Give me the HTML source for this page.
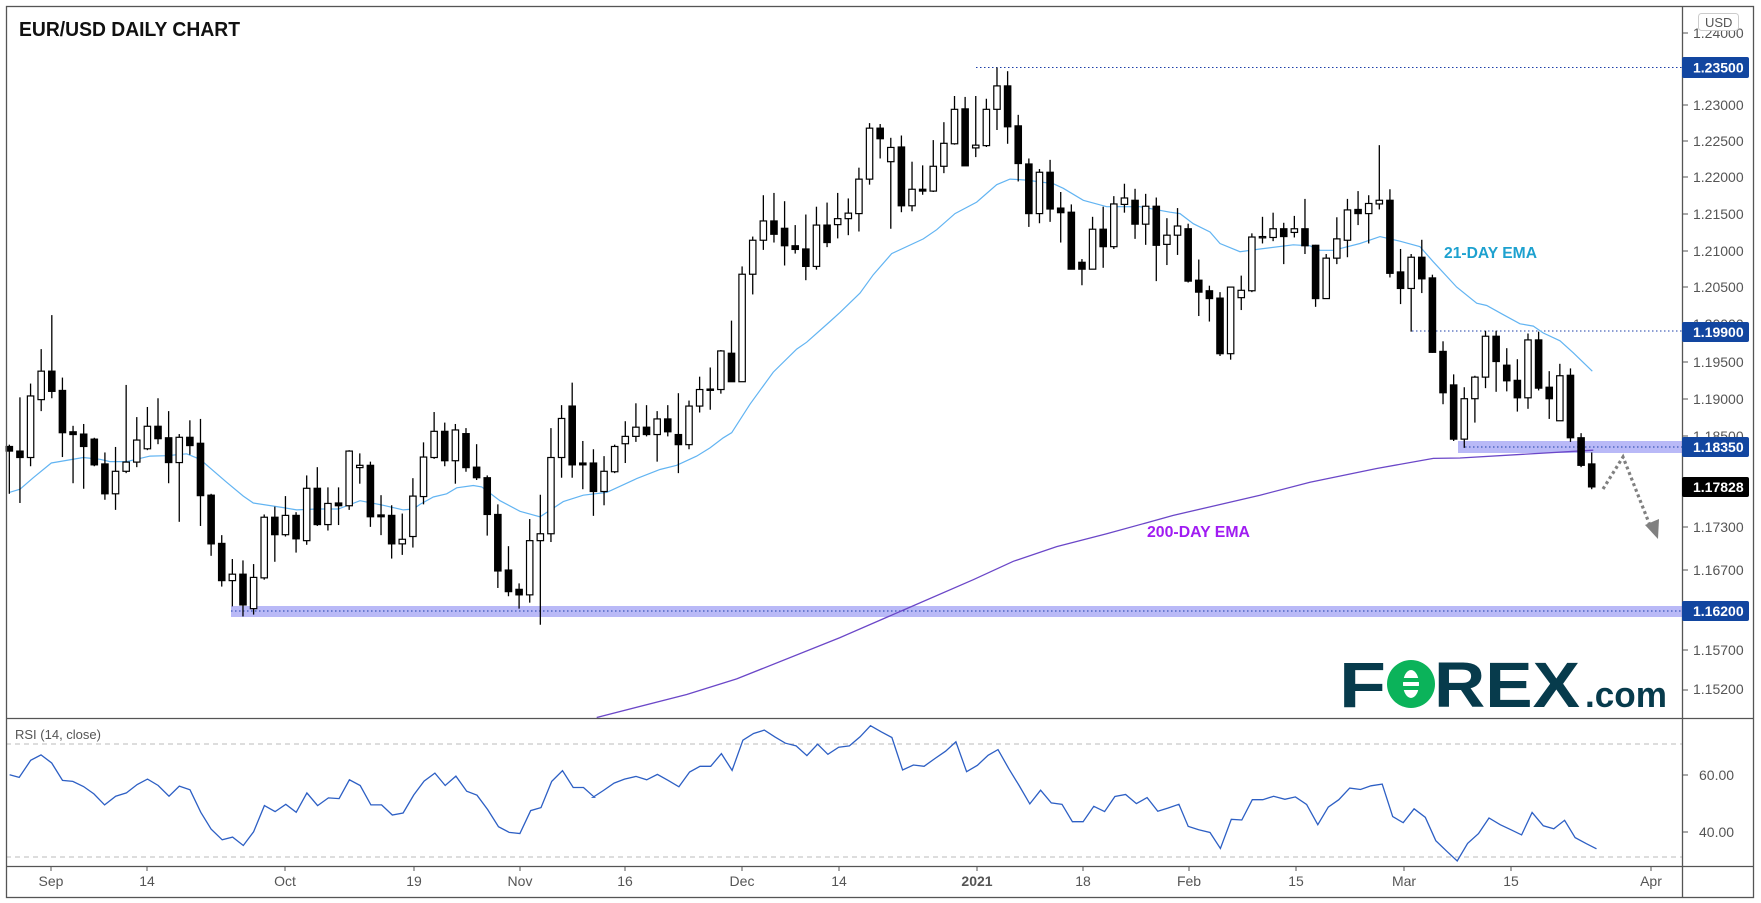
<!DOCTYPE html>
<html><head><meta charset="utf-8">
<style>
html,body{margin:0;padding:0;background:#fff;}
svg{display:block;font-family:"Liberation Sans",sans-serif;}
</style></head>
<body>
<svg id="c" width="1761" height="903" viewBox="0 0 1761 903" xmlns="http://www.w3.org/2000/svg">
<rect x="0" y="0" width="1761" height="903" fill="#fff"/>
<g id="zones">
<rect x="231" y="606" width="1451" height="11" fill="#b9b9f7"/>
<rect x="1458" y="441" width="224" height="12" fill="#b9b9f7"/>
<line x1="231" y1="611" x2="1682" y2="611" stroke="#1b3ea8" stroke-width="1" stroke-dasharray="1.5 2.5"/>
<line x1="1465" y1="447" x2="1682" y2="447" stroke="#1b3ea8" stroke-width="1" stroke-dasharray="1.5 2.5"/>
<line x1="976" y1="67.5" x2="1682" y2="67.5" stroke="#1b3ea8" stroke-width="1" stroke-dasharray="1.5 2.5"/>
<line x1="1412" y1="331" x2="1682" y2="331" stroke="#1b3ea8" stroke-width="1" stroke-dasharray="1.5 2.5"/>
</g>
<g id="lines"></g>
<g id="candles"></g>
<!-- labels -->
<text x="1444" y="258" font-size="16" font-weight="bold" fill="#1da1cf" textLength="93" lengthAdjust="spacingAndGlyphs">21-DAY EMA</text>
<text x="1147" y="537" font-size="16" font-weight="bold" fill="#a01cf2" textLength="103" lengthAdjust="spacingAndGlyphs">200-DAY EMA</text>
<text x="19" y="36" font-size="20" font-weight="bold" fill="#111" textLength="221" lengthAdjust="spacingAndGlyphs">EUR/USD DAILY CHART</text>
<!-- arrow -->
<polyline points="1603,489 1623,457 1651,528" fill="none" stroke="#808080" stroke-width="3.2" stroke-dasharray="3 3"/>
<polygon points="1645,525 1659,519 1658,539" fill="#808080"/>
<!-- logo -->
<text x="1339" y="707" font-size="64" font-weight="bold" fill="#073b4c" textLength="47" lengthAdjust="spacingAndGlyphs">F</text>
<circle cx="1411" cy="684" r="24" fill="#0bb35a"/>
<ellipse cx="1411" cy="684" rx="8" ry="14" fill="#fff"/>
<rect x="1403" y="678" width="28" height="4" fill="#0bb35a"/>
<rect x="1403" y="686" width="28" height="4" fill="#0bb35a"/>
<text x="1434" y="707" font-size="64" font-weight="bold" fill="#073b4c" textLength="146" lengthAdjust="spacingAndGlyphs">REX</text>
<text x="1585" y="707" font-size="36" font-weight="bold" fill="#073b4c" textLength="82" lengthAdjust="spacingAndGlyphs">.com</text>
<!-- RSI -->
<text x="15" y="739" font-size="13" fill="#555">RSI (14, close)</text>
<line x1="6" y1="744" x2="1682" y2="744" stroke="#bbb" stroke-dasharray="5 4"/>
<line x1="6" y1="857" x2="1682" y2="857" stroke="#bbb" stroke-dasharray="5 4"/>
<polyline id="rsi" fill="none" stroke="#2d5fc4" stroke-width="1.3"/>
<!-- frame -->
<rect x="6.5" y="6.5" width="1747" height="891" fill="none" stroke="#555" stroke-width="1.3"/>
<line x1="6" y1="718.5" x2="1754" y2="718.5" stroke="#555" stroke-width="1.3"/>
<line x1="6" y1="866.5" x2="1754" y2="866.5" stroke="#555" stroke-width="1.3"/>
<line x1="1682.5" y1="6" x2="1682.5" y2="898" stroke="#555" stroke-width="1.3"/>
<g id="ticks" stroke="#555" stroke-width="1"></g>
<!-- price axis labels -->
<g font-size="14" fill="#555">
<text x="1693" y="38">1.24000</text>
<text x="1693" y="110">1.23000</text>
<text x="1693" y="146">1.22500</text>
<text x="1693" y="182">1.22000</text>
<text x="1693" y="219">1.21500</text>
<text x="1693" y="256">1.21000</text>
<text x="1693" y="292">1.20500</text>
<text x="1693" y="329">1.20000</text>
<text x="1693" y="367">1.19500</text>
<text x="1693" y="404">1.19000</text>
<text x="1693" y="441">1.18500</text>
<text x="1693" y="532">1.17300</text>
<text x="1693" y="575">1.16700</text>
<text x="1693" y="655">1.15700</text>
<text x="1693" y="694">1.15200</text>
<text x="1699" y="780">60.00</text>
<text x="1699" y="837">40.00</text>
</g>
<rect x="1698.5" y="13.5" width="40" height="17" rx="3" fill="#fff" stroke="#ccc"/>
<text x="1705" y="27" font-size="13" fill="#555">USD</text>
<g font-size="14" font-weight="bold" fill="#fff">
<rect x="1682" y="57" width="67" height="21" rx="2" fill="#1246a0"/><text x="1693" y="72.5">1.23500</text>
<rect x="1682" y="322" width="67" height="20" rx="2" fill="#1246a0"/><text x="1693" y="337">1.19900</text>
<rect x="1682" y="437" width="67" height="20" rx="2" fill="#1246a0"/><text x="1693" y="452">1.18350</text>
<rect x="1682" y="477" width="67" height="20" rx="2" fill="#000"/><text x="1693" y="492">1.17828</text>
<rect x="1682" y="601" width="67" height="20" rx="2" fill="#1246a0"/><text x="1693" y="616">1.16200</text>
</g>
<!-- date labels -->
<g font-size="14" fill="#555" text-anchor="middle">
<text x="51" y="886">Sep</text>
<text x="147" y="886">14</text>
<text x="285" y="886">Oct</text>
<text x="414" y="886">19</text>
<text x="520" y="886">Nov</text>
<text x="625" y="886">16</text>
<text x="742" y="886">Dec</text>
<text x="839" y="886">14</text>
<text x="977" y="886" font-weight="bold">2021</text>
<text x="1083" y="886">18</text>
<text x="1189" y="886">Feb</text>
<text x="1296" y="886">15</text>
<text x="1404" y="886">Mar</text>
<text x="1511" y="886">15</text>
<text x="1651" y="886">Apr</text>
</g>
</svg>
<script>
var NS="http://www.w3.org/2000/svg";
function el(t,a,p){var e=document.createElementNS(NS,t);for(var k in a)e.setAttribute(k,a[k]);p.appendChild(e);return e;}
var D=[[968,972,982,1075,'B'],[865,982,996,1095,'B'],[835,862,996,1015,'W'],[760,808,870,895,'W'],[686,808,852,867,'B'],[822,850,942,995,'B'],[927,940,946,1052,'B'],[923,945,972,1064,'B'],[953,956,1012,1015,'B'],[985,1010,1075,1088,'B'],
[973,1026,1075,1110,'W'],[838,1006,1026,1030,'W'],[908,958,1006,1017,'W'],[886,928,977,980,'W'],[867,928,955,967,'B'],[895,953,1007,1052,'B'],[945,952,1007,1136,'W'],[915,952,970,990,'B'],[912,965,1079,1145,'B'],[1075,1078,1184,1210,'B'],
[1165,1183,1264,1277,'B'],[1217,1250,1264,1320,'W'],[1220,1250,1317,1342,'B'],[1228,1257,1325,1338,'W'],[1120,1126,1258,1262,'W'],[1103,1126,1164,1223,'B'],[1080,1122,1164,1168,'W'],[1115,1122,1173,1203,'B'],[1035,1063,1177,1186,'W'],[1017,1063,1142,1145,'B'],
[1061,1096,1142,1155,'W'],[1061,1095,1101,1143,'B'],[980,982,1101,1110,'W'],[987,1013,1018,1053,'W'],[1005,1013,1125,1147,'B'],[1078,1121,1125,1165,'B'],[1100,1122,1184,1216,'B'],[1118,1174,1184,1208,'W'],[1041,1080,1168,1192,'W'],[963,995,1081,1098,'W'],
[897,939,996,999,'W'],[920,939,1003,1015,'B'],[923,936,1003,1053,'W'],[932,944,1018,1027,'B'],[967,1017,1040,1045,'B'],[1035,1040,1120,1166,'B'],[1098,1120,1243,1280,'B'],[1189,1241,1288,1298,'B'],[1270,1283,1295,1325,'B'],[1130,1177,1295,1312,'W'],
[1077,1162,1177,1360,'W'],[932,996,1162,1180,'W'],[882,911,996,1040,'W'],[833,884,1012,1040,'B'],[960,1008,1012,1065,'B'],[978,1008,1070,1123,'B'],[993,1026,1070,1100,'W'],[968,972,1027,1030,'W'],[917,950,966,1008,'W'],[878,930,950,962,'W'],
[882,930,946,950,'B'],[895,912,946,1005,'W'],[882,912,940,950,'B'],[856,946,968,1030,'B'],[872,884,968,978,'W'],[820,848,884,898,'W'],[800,847,849,892,'B'],[762,764,848,857,'W'],[698,769,831,831,'B'],[580,597,831,831,'W'],
[515,523,597,641,'W'],[425,481,523,544,'W'],[420,481,510,528,'B'],[438,497,535,578,'B'],[490,535,543,552,'B'],[467,542,580,610,'B'],[450,490,580,587,'W'],[441,490,528,538,'B'],[420,476,489,519,'W'],[432,464,476,512,'W'],
[365,390,465,504,'W'],[268,279,390,402,'W'],[270,279,302,345,'B'],[300,321,352,498,'W'],[295,320,448,462,'B'],[352,412,448,460,'W'],[360,412,416,424,'B'],[305,362,416,418,'W'],[266,312,362,377,'W'],[209,238,313,315,'W'],
[211,237,361,361,'B'],[209,316,322,342,'W'],[215,238,317,320,'W'],[147,187,238,283,'W'],[155,187,276,313,'B'],[250,274,356,395,'B'],[345,357,465,494,'B'],[368,375,465,486,'W'],[348,375,455,483,'B'],[418,453,463,528,'B'],
[445,462,586,586,'B'],[564,571,586,621,'B'],[472,499,586,586,'W'],[450,499,537,583,'B'],[427,444,537,542,'W'],[400,431,445,463,'W'],[411,436,488,520,'B'],[422,449,488,533,'W'],[430,449,534,612,'B'],[475,512,532,577,'W'],
[453,492,512,555,'W'],[487,498,612,615,'B'],[565,610,636,688,'B'],[622,633,650,700,'B'],[636,649,770,775,'B'],[624,625,770,783,'W'],[600,632,648,675,'W'],[508,516,633,636,'W'],[472,515,517,530,'W'],
[463,498,517,525,'W'],[485,498,515,575,'B'],[470,498,506,517,'W'],[433,498,535,553,'B'],[533,534,650,668,'B'],[553,562,650,650,'W'],[473,520,562,575,'W'],[433,457,523,560,'W'],[416,456,465,490,'B'],[425,443,465,530,'W'],
[316,436,444,456,'W'],[412,436,595,604,'B'],[542,592,628,662,'B'],[553,560,628,722,'W'],[522,560,607,638,'B'],[598,605,767,768,'B'],[743,765,855,880,'B'],[815,838,956,960,'B'],[843,868,956,975,'W'],[818,821,868,920,'W'],
[720,732,821,845,'W'],[720,732,787,853,'B'],[758,795,829,852,'B'],[782,828,866,896,'B'],[726,740,866,890,'W'],[722,740,845,850,'B'],[808,843,868,912,'B'],[792,818,916,916,'W'],[802,817,953,962,'B'],[943,953,1013,1017,'B'],[985,1010,1060,1065,'B']];
var g=document.getElementById('candles'),F=2.177;
D.forEach(function(d,i){var x=9.33+i*10.62;var hi=d[0]/F,t=d[1]/F,b=d[2]/F,lo=d[3]/F;
el('line',{x1:x,y1:hi,x2:x,y2:lo,stroke:'#000','stroke-width':1.3},g);
var h=Math.max(b-t,1.3);
el('rect',{x:x-3.2,y:t,width:6.4,height:h,fill:d[4]=='B'?'#000':'#fff',stroke:'#000','stroke-width':1.2},g);});
function pl(pts,sx,ox,sy,oy,col,w){var s=pts.map(function(p){return (p[0]/sx+ox).toFixed(1)+','+(p[1]/sy+oy).toFixed(1)}).join(' ');
el('polyline',{points:s,fill:'none',stroke:col,'stroke-width':w},document.getElementById('lines'));}
var e21=[];
[[28,1072],[60,1065],[100,1040],[154,1008],[250,996],[300,1000],[330,1005],[380,1005],[450,993],[500,992],[560,988],[600,1000],[680,1050],[730,1080],[760,1095],[850,1105],[890,1110],[950,1108],[1015,1108],[1080,1090],[1150,1100],[1210,1110],[1240,1108]].forEach(function(p){e21.push([p[0]/3,p[1]/F])});
[[0,1098],[40,1082],[80,1075],[110,1062],[160,1057],[185,1060],[240,1090],[300,1113],[360,1125],[430,1092],[490,1078],[560,1072],[650,1042],[720,1022],[770,1013],[830,993],[870,975],[910,953],[935,942],[990,880],[1060,810],[1130,760],[1160,745],[1230,700]].forEach(function(p){e21.push([p[0]/3+420,p[1]/F])});
[[0,680],[60,638],[100,598],[155,552],[250,520],[290,500],[345,465],[410,440],[470,402],[510,390],[560,392],[640,400],[670,410],[730,436],[800,450],[900,450],[990,462],[1020,465],[1060,487],[1110,505],[1140,530],[1200,548]].forEach(function(p){e21.push([p[0]/3+840,p[1]/F])});
[[0,542],[100,533],[150,535],[180,545],[220,545],[300,530],[360,515],[420,525],[480,537],[520,570],[590,625],[650,660],[680,665],[730,685],[780,705],[820,710],[850,725],[900,742],[940,768],[997,808]].forEach(function(p){e21.push([p[0]/3+1260,p[1]/F])});
pl(e21,1,0,1,0,'#62b4f2',1.2);
var e200=[];
[[530,1562],[800,1512],[950,1478]].forEach(function(p){e200.push([p[0]/3+420,p[1]/F])});
[[0,1388],[200,1325],[400,1262],[520,1222],[650,1190],[800,1162],[1000,1122],[1100,1105]].forEach(function(p){e200.push([p[0]/3+840,p[1]/F])});
[[0,1078],[150,1050],[350,1020],[520,998],[600,997],[1000,980]].forEach(function(p){e200.push([p[0]/3+1260,p[1]/F])});
pl(e200,1,0,1,0,'#6b47c8',1.3);
var r=[];
[[25,178],[50,186],[80,135],[107,119],[135,143],[163,195],[190,198],[218,213],[245,235],[273,268],[302,242],[330,232],[358,207],[385,191],[413,210],[441,242],[468,212],[496,223],[524,290],[551,340],[580,372],[607,364],[635,389],[662,348],[690,270],[718,288],[746,266],[773,290],[801,232],[829,270],[857,247],[885,249],[912,193],[940,210],[968,268],[996,268],[1024,298],[1052,292],[1080,238],[1107,197],[1135,173],[1162,210],[1190,182],[1218,227],[1245,239],[1273,282],[1301,333],[1329,350],[1357,353],[1385,285],[1412,276],[1440,198],[1468,166],[1496,216],[1523,216],[1551,245]].forEach(function(p){r.push([p[0]/2.61,p[1]/2.98+715])});
[[8,245],[35,225],[63,203],[90,191],[120,183],[148,193],[176,177],[204,195],[232,214],[260,170],[287,153],[315,153],[343,115],[371,165],[399,75],[427,55],[455,45],[483,66],[510,84],[538,92],[566,121],[594,87],[621,117],[649,96],[677,92],[705,65],[732,32],[760,50],[788,67],[816,164],[844,149],[872,153],[900,130],[928,108],[955,80],[983,169],[1011,150],[1039,120],[1065,103],[1093,160],[1120,210],[1148,265],[1176,224],[1204,262],[1232,266],[1259,318],[1287,318],[1315,272],[1343,288],[1370,243],[1398,237],[1426,264],[1454,246],[1482,287],[1509,277],[1537,266]].forEach(function(p){r.push([p[0]/2.61+590,p[1]/2.98+715])});
[[22,727],[50,737],[80,745],[108,792],[137,706],[165,708],[193,648],[221,648],[250,638],[280,647],[308,640],[338,662],[368,722],[396,670],[424,648],[453,614],[482,618],[510,607],[540,602],[568,698],[596,716],[625,675],[655,700],[683,769],[712,800],[740,829],[768,777],[797,748],[825,702],[855,722],[884,737],[912,752],[940,686],[970,725],[998,734],[1027,709],[1055,760],[1085,778],[1112,793]].forEach(function(p){r.push([p[0]/2.67+1180,p[1]/2.95+580])});
document.getElementById('rsi').setAttribute('points',r.map(function(p){return p[0].toFixed(1)+','+p[1].toFixed(1)}).join(' '));
var tk=document.getElementById('ticks');
[33,67.5,105,141,177,214,251,287,324,362,399,436,447,487,527,570,611,650,690,775,832].forEach(function(y){el('line',{x1:1682,y1:y,x2:1688,y2:y},tk)});
[51,147,285,414,520,625,742,839,977,1083,1189,1296,1404,1511,1651].forEach(function(x){el('line',{x1:x,y1:866,x2:x,y2:871},tk)});
</script>
</body></html>
